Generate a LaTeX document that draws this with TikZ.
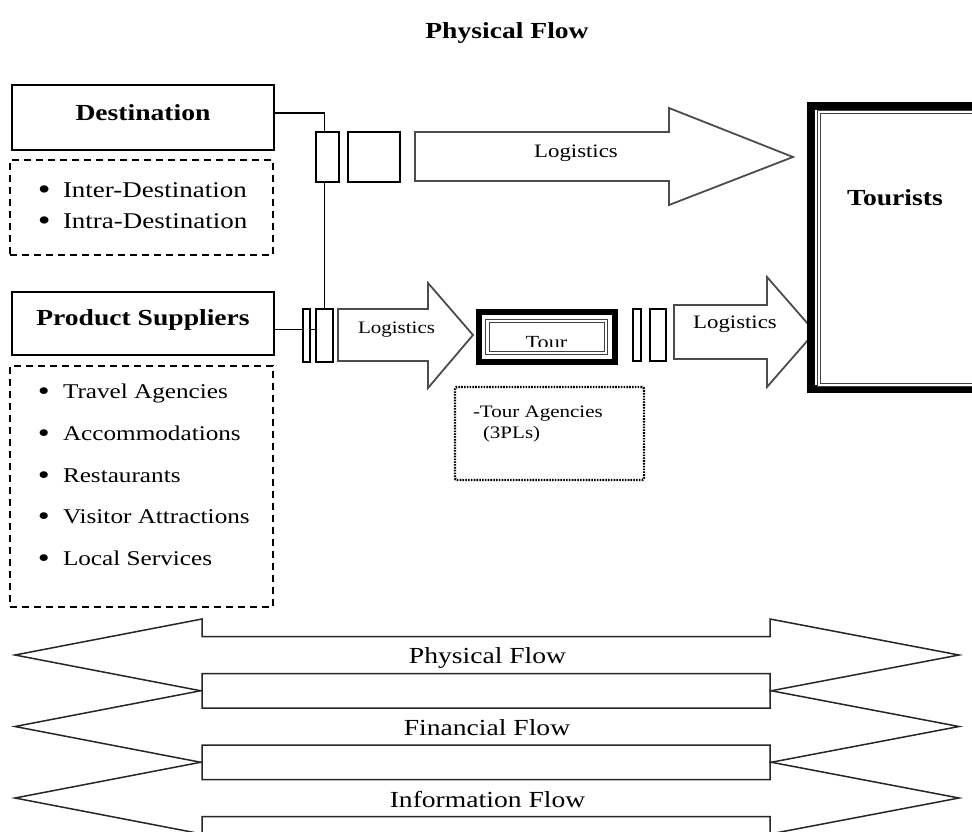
\documentclass[tikz,border=0pt]{standalone}
\usepackage{fontspec}
\setmainfont{Liberation Serif}[FakeStretch=1.2]
\usetikzlibrary{backgrounds}
\newcommand\bigbul{\makebox[26pt][l]{\hspace{1pt}\raisebox{-2.6pt}{\scalebox{1.35}{•}}}}
\begin{document}
\begin{tikzpicture}[x=1pt,y=-1pt,
  every node/.style={inner sep=0pt, outer sep=0pt},
  rbox/.style={draw, line width=1.8pt, fill=white},
  dashbox/.style={draw, line width=2.8pt, dash pattern=on 7pt off 5pt},
  dotbox/.style={draw, line width=2.4pt, dash pattern=on 1.6pt off 1.2pt, rounded corners=2pt},
  bigarrow/.style={draw=black!70, line width=1.8pt, fill=white, line join=miter},
  flowarrow/.style={draw=black!85, line width=1.5pt, fill=white},
  conn/.style={line width=1.8pt},
  btext/.style={font=\fontsize{23}{27}\selectfont\bfseries, anchor=base},
  dtext/.style={font=\fontsize{22.5}{26}\selectfont, anchor=base west},
  ptext/.style={font=\fontsize{21}{25}\selectfont, anchor=base west},
  logtext/.style={font=\fontsize{#1}{#1}\selectfont, anchor=base},
  flowtext/.style={font=\fontsize{23}{27}\selectfont, anchor=base},
  tatext/.style={font=\fontsize{17.5}{20}\selectfont, anchor=base west}
]
\clip (0,0) rectangle (972,831);

% title
\node[btext] (title) at (507,38) {Physical Flow};

% left boxes
\node[rbox, minimum width=262pt, minimum height=65pt] (dest) at (143,117.5) {};
\node[btext] (desttxt) at (143,120) {Destination};
\node[dashbox, minimum width=263pt, minimum height=95pt] (destlist) at (141.5,207.5) {};
\node[dtext] (d1) at (37,197) {\bigbul Inter-Destination};
\node[dtext] (d2) at (37,228) {\bigbul Intra-Destination};

\node[rbox, minimum width=262pt, minimum height=63pt] (ps) at (143,323.5) {};
\node[btext] (pstxt) at (143,325) {Product Suppliers};
\node[dashbox, minimum width=263pt, minimum height=241pt] (pslist) at (141.5,486.5) {};
\node[ptext] (p1) at (37,398) {\bigbul Travel Agencies};
\node[ptext] (p2) at (37,440) {\bigbul Accommodations};
\node[ptext] (p3) at (37,482) {\bigbul Restaurants};
\node[ptext] (p4) at (37,523) {\bigbul Visitor Attractions};
\node[ptext] (p5) at (37,565) {\bigbul Local Services};

% small rectangles
\node[rbox, minimum width=23pt, minimum height=50pt] (rA) at (327.5,157) {};
\node[rbox, minimum width=52pt, minimum height=50pt] (rB) at (374,157) {};
\node[rbox, minimum width=7pt, minimum height=53pt] (rC) at (306.5,335.5) {};
\node[rbox, minimum width=17pt, minimum height=53pt] (rD) at (324.5,335.5) {};
\node[rbox, minimum width=8pt, minimum height=52pt] (rE) at (637,335) {};
\node[rbox, minimum width=16pt, minimum height=52pt] (rF) at (658,335) {};

% connectors (behind the boxes)
\begin{pgfonlayer}{background}
  \fill[white] (0,0) rectangle (972,831);
  \coordinate (dj) at ([yshift=4.5pt]dest.east);
  \draw[conn] (dj) -| (rD.north);
  \coordinate (pj) at ([yshift=-6pt]ps.east);
  \draw[conn] (pj) -- (pj -| rC.west);
  \draw[conn] (pj -| rC.east) -- (pj -| rD.west);
\end{pgfonlayer}

% big arrows
\draw[bigarrow] (415,132) -- (669,132) -- (669,108) -- (793,157) -- (669,205) -- (669,181) -- (415,181) -- cycle;
\node[logtext=19] (log1) at (576,157) {Logistics};

\draw[bigarrow] (338,309) -- (428,309) -- (428,283) -- (473,335) -- (428,388) -- (428,361) -- (338,361) -- cycle;
\node[logtext=17.5] (log2) at (396.5,333) {Logistics};

\draw[bigarrow] (674,305) -- (767,305) -- (767,277) -- (815,332) -- (767,387) -- (767,359) -- (674,359) -- cycle;
\node[logtext=19] (log3) at (735,328) {Logistics};

% Tour box
\node[draw, line width=6pt, minimum width=136pt, minimum height=50pt] (tourout) at (547,337) {};
\node[draw=black!75, double, double distance=2.5pt, line width=1pt, minimum width=118.5pt, minimum height=32pt] (tourin) at (546.75,337) {};
\begin{scope}
  \clip (491,324) rectangle (602,346.5);
  \node[logtext=18.5] (tourtxt) at (546.5,348) {Tour};
\end{scope}

% Tour agencies
\node[dotbox, minimum width=189pt, minimum height=93pt] (ta) at (549.5,433.5) {};
\node[tatext] (ta1) at (473,417) {-Tour Agencies};
\node[tatext] (ta2) at (483,438) {(3PLs)};

% Tourists
\node[draw, line width=8pt, fill=white, minimum width=189pt, minimum height=283pt] (tourists) at (905.5,247.5) {};
\node[draw=black!75, double, double distance=2pt, line width=1pt, minimum width=171.3pt, minimum height=272.7pt] (touristsin) at (904.35,248.35) {};
\node[btext] (tourtxt2) at (895,205) {Tourists};

% flow arrows
\foreach \c in {655,726.5,798} {
  \draw[flowarrow] (15,\c) -- (202,{\c-36}) -- (202,{\c-18.5}) -- (770,{\c-18.5}) -- (770,{\c-36})
    -- (959,\c) -- (770,{\c+36}) -- (770,{\c+18.5}) -- (202,{\c+18.5}) -- (202,{\c+36}) -- cycle;
}
\node[flowtext] (f1) at (487.5,663) {Physical Flow};
\node[flowtext] (f2) at (487,735) {Financial Flow};
\node[flowtext] (f3) at (487.5,807) {Information Flow};
\end{tikzpicture}
\end{document}
